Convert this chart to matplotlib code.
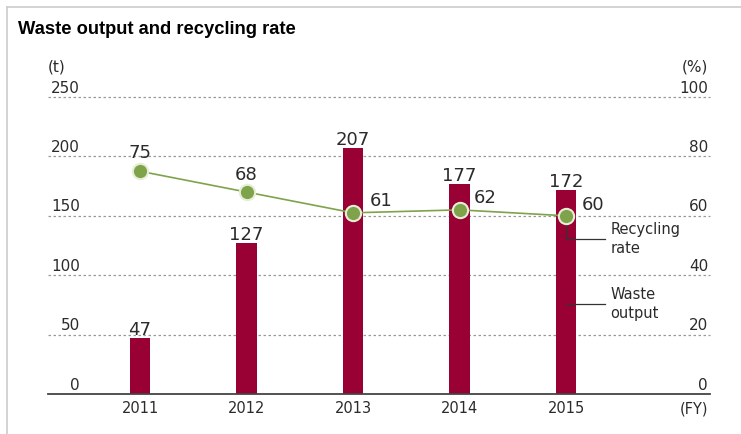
import matplotlib
matplotlib.use("Agg")
import matplotlib.pyplot as plt
from matplotlib.lines import Line2D
import matplotlib.transforms as mtransforms

years = ["2011", "2012", "2013", "2014", "2015"]
waste_t = [47, 127, 207, 177, 172]
recycling_pct = [75, 68, 61, 62, 60]
left_ticks = [0, 50, 100, 150, 200, 250]
right_ticks = [0, 20, 40, 60, 80, 100]

BAR = "#990033"
GREEN = "#7fa34a"
TXT = "#2b2b2b"
W, H = 741, 434

fig = plt.figure(figsize=(W / 100, H / 100), dpi=100)
fig.patch.set_facecolor("white")

# axes box in pixel terms: x 48..710, y 97..394 (from top)
ax = fig.add_axes([48 / W, (H - 394) / H, (710 - 48) / W, (394 - 97) / H])
ax2 = ax.twinx()
for a in (ax, ax2):
    a.set_facecolor("none")
    for s in a.spines.values():
        s.set_visible(False)
    a.tick_params(left=False, right=False, bottom=False,
                  labelleft=False, labelright=False, labelbottom=False)

x = list(range(len(years)))
ax.set_xlim(-0.864, 5.352)
ax.set_ylim(0, 250)
ax2.set_ylim(0, 100)

# dashed grid + baseline
for v in left_ticks[1:]:
    ax.axhline(v, color="#999999", lw=0.9, ls=(0, (2, 2)), zorder=0, clip_on=False)
ax.axhline(0, color="#444444", lw=1.3, zorder=3, clip_on=False)

# tick labels sit on top of the grid lines
lt = mtransforms.blended_transform_factory(ax.transAxes, ax.transData)
for v in left_ticks:
    ax.text(0.048, v + 7.5, str(v), transform=lt, ha="right", va="center",
            fontsize=11, color=TXT)
rt = mtransforms.blended_transform_factory(ax2.transAxes, ax2.transData)
for v in right_ticks:
    ax2.text(0.997, v + 3.0, str(v), transform=rt, ha="right", va="center",
             fontsize=11, color=TXT)

ax.text(0.0, 1.1, "(t)", transform=ax.transAxes, ha="left", va="center",
        fontsize=11, color=TXT)
ax.text(0.997, 1.1, "(%)", transform=ax.transAxes, ha="right", va="center",
        fontsize=11, color=TXT)

# bars
ax.bar(x, waste_t, width=0.19, color=BAR, zorder=2)
for i, v in enumerate(waste_t):
    ax.text(i, v + 6.5, str(v), ha="center", va="center", fontsize=13, color=TXT)

for i, y in enumerate(years):
    ax.text(i, -6, y, ha="center", va="top", fontsize=10.5, color=TXT)
ax.text(0.997, -6, "(FY)", transform=lt, ha="right", va="top", fontsize=10.5, color=TXT)

# recycling rate line
ax2.plot(x, recycling_pct, color=GREEN, lw=1.2, zorder=4)
ax2.plot(x, recycling_pct, ls="none", marker="o", ms=11, mfc=GREEN,
         mec="#e6eed8", mew=1.5, zorder=5)
offsets = [(0, 6.0), (0, 5.7), (0.16, 4.0), (0.13, 4.0), (0.15, 3.7)]
for i, v in enumerate(recycling_pct):
    dx, dy = offsets[i]
    ax2.text(i + dx, v + dy, str(v), ha="center" if dx == 0 else "left",
             va="center", fontsize=13, color=TXT, zorder=6)

# leader lines for the legend labels
last = len(years) - 1
ax2.plot([last, last, 4.366], [recycling_pct[-1], 52.2, 52.2], color="#333333",
         lw=0.9, zorder=4)
ax2.text(4.42, 52.2, "Recycling\nrate", ha="left", va="center", fontsize=10.5,
         color=TXT, linespacing=1.35)
ax.plot([last, 4.366], [75.8, 75.8], color="#333333", lw=0.9, zorder=4)
ax.text(4.42, 75.8, "Waste\noutput", ha="left", va="center", fontsize=10.5,
        color=TXT, linespacing=1.35)

fig.text(18 / W, 1 - 30 / H, "Waste output and recycling rate", ha="left",
         va="center", fontsize=13.2, fontweight="bold", family="Liberation Sans",
         color="black")

# light frame on top and left edges
fig.add_artist(Line2D([7 / W, 1], [1 - 7 / H, 1 - 7 / H], color="#cccccc", lw=1.2))
fig.add_artist(Line2D([7 / W, 7 / W], [0, 1 - 7 / H], color="#cccccc", lw=1.2))

fig.savefig("out.png", dpi=100)
